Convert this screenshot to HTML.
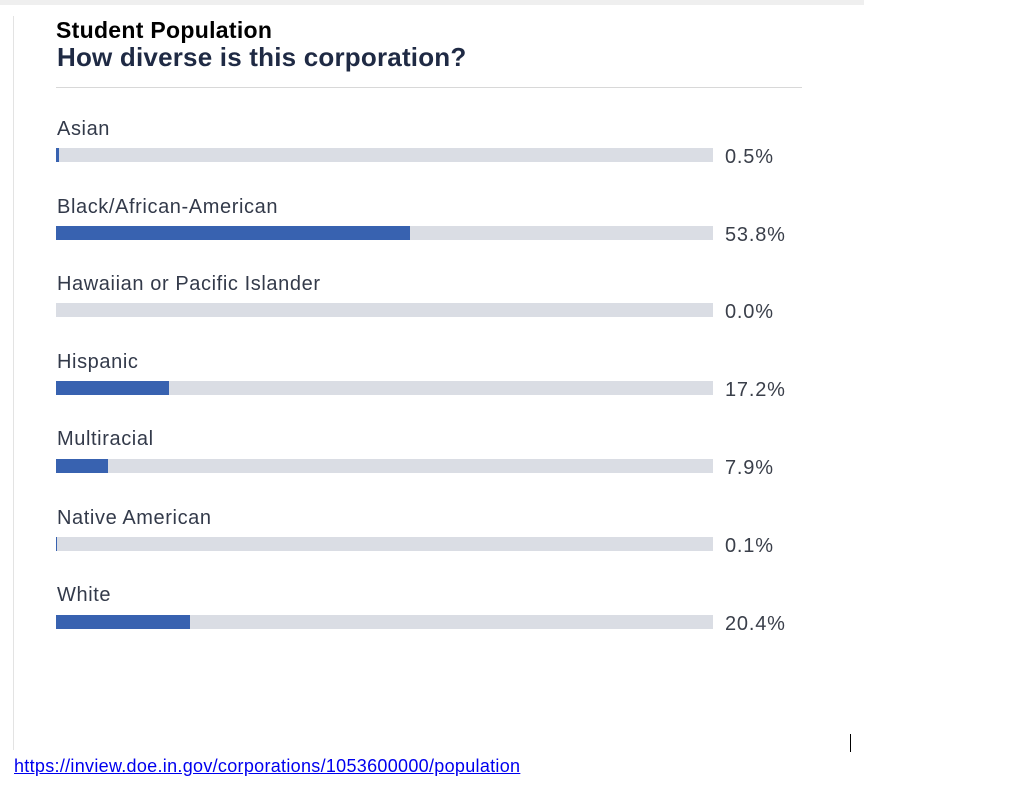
<!DOCTYPE html>
<html><head><style>
body{margin:0;width:1024px;height:788px;background:#fff;position:relative;overflow:hidden;font-family:"Liberation Sans",sans-serif;}
.a{position:absolute;white-space:nowrap;}
.lbl{font-size:20px;color:#333a4a;letter-spacing:0.6px;}
.val{font-size:20px;color:#3a3f4a;letter-spacing:0.8px;}
.bar{position:absolute;left:56px;width:657px;height:14px;background:#dadde4;}
.bar i{position:absolute;left:0;top:0;bottom:0;background:#3862b0;}
</style></head><body>
<div class="a" style="left:0;top:0;width:864px;height:5px;background:#efefef"></div>
<div class="a" style="left:13px;top:16px;width:1px;height:734px;background:#e3e3e3"></div>
<div class="a" style="left:56px;top:17px;font-size:23px;font-weight:bold;color:#000;letter-spacing:0.3px">Student Population</div>
<div class="a" style="left:57px;top:42px;font-size:26px;font-weight:bold;color:#1f2a44;letter-spacing:0.2px">How diverse is this corporation?</div>
<div class="a" style="left:56px;top:87px;width:746px;height:1px;background:#d8d8d8"></div>

<div class="a lbl" style="left:57px;top:118px">Asian</div>
<div class="bar" style="top:148px"><i style="width:3px"></i></div>
<div class="a val" style="left:725px;top:146px">0.5%</div>

<div class="a lbl" style="left:57px;top:196px">Black/African-American</div>
<div class="bar" style="top:226px"><i style="width:354px"></i></div>
<div class="a val" style="left:725px;top:224px">53.8%</div>

<div class="a lbl" style="left:57px;top:273px">Hawaiian or Pacific Islander</div>
<div class="bar" style="top:303px"></div>
<div class="a val" style="left:725px;top:301px">0.0%</div>

<div class="a lbl" style="left:57px;top:351px">Hispanic</div>
<div class="bar" style="top:381px"><i style="width:113px"></i></div>
<div class="a val" style="left:725px;top:379px">17.2%</div>

<div class="a lbl" style="left:57px;top:428px">Multiracial</div>
<div class="bar" style="top:459px"><i style="width:52px"></i></div>
<div class="a val" style="left:725px;top:457px">7.9%</div>

<div class="a lbl" style="left:57px;top:507px">Native American</div>
<div class="bar" style="top:537px"><i style="width:1px"></i></div>
<div class="a val" style="left:725px;top:535px">0.1%</div>

<div class="a lbl" style="left:57px;top:584px">White</div>
<div class="bar" style="top:615px"><i style="width:134px"></i></div>
<div class="a val" style="left:725px;top:613px">20.4%</div>

<div class="a" style="left:850px;top:734px;width:1px;height:18px;background:#000"></div>
<div class="a" style="left:14px;top:756px;font-size:18px;color:#0000ee;text-decoration:underline;letter-spacing:0.3px">https://inview.doe.in.gov/corporations/1053600000/population</div>
</body></html>
